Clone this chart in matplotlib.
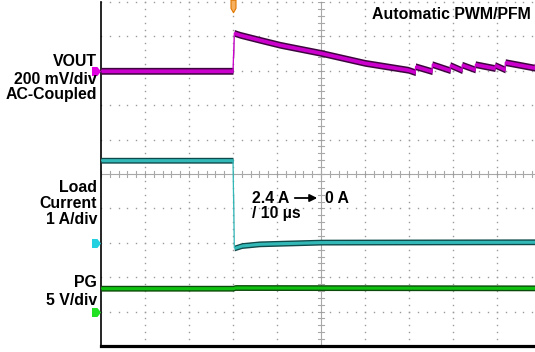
import numpy as np
import matplotlib
matplotlib.use("Agg")
import matplotlib.pyplot as plt
from matplotlib.path import Path
from matplotlib.patches import FancyArrowPatch

# ---- waveform data (time in µs, trigger at t = 0) ----
t_vout = [-300, 0, 3, 16, 61, 107, 200, 300, 398, 414, 415, 452, 453, 493, 494,
          520, 521, 550, 551, 595, 596, 618, 619, 686, 687, 700]
v_vout = [0, 0, 220, 209, 180, 151, 104, 46, 6, -8, 26, -2, 38, 4, 33,
          4, 35, 8, 38, 16, 33, 8, 50, 18, 38, 34]          # mV, AC-coupled

t_iload = [-300, 0, 3, 20, 60, 200, 700]
i_iload = [2.4, 2.4, -0.15, -0.08, -0.03, 0.02, 0.03]      # A

t_pg = [-300, 0, 5, 700]
v_pg = [3.4, 3.4, 3.5, 3.45]                               # V

# channel scale (units/div) and ground offset (div)
vout_scale, vout_offset = 200.0, 8.0
iload_scale, iload_offset = 1.0, 3.0
pg_scale, pg_offset = 5.0, 1.0

t_min, t_max, t_div = -300, 700, 100

W, H = 535, 352
fig = plt.figure(figsize=(W / 100, H / 100), dpi=100)
ax = fig.add_axes([101 / W, 6 / H, 440 / W, 344 / H])
ax.set_xlim(t_min, t_max)
ax.set_ylim(0, 10)
ax.set_xticks([])
ax.set_yticks([])
for s in ("top", "right"):
    ax.spines[s].set_visible(False)
ax.spines["left"].set_linewidth(1.2)
ax.spines["bottom"].set_linewidth(2.3)

# ---- graticule ----
dot_c = "#9a9a9a"
minor_t = np.arange(t_min, t_max + 1, t_div / 5)
minor_y = np.arange(0, 10.01, 0.2)
for yy in [1, 2, 3, 4, 6, 7, 8, 9, 10]:
    ax.plot(minor_t, np.full_like(minor_t, yy, dtype=float), ls="none",
            marker="s", ms=1.0, mew=0, color=dot_c, clip_on=False)
for tt in [-200, -100, 0, 100, 300, 400, 500, 600, 700]:
    ax.plot(np.full_like(minor_y, tt, dtype=float), minor_y, ls="none",
            marker="s", ms=1.0, mew=0, color=dot_c, clip_on=False)
center_c = "#a8a8a8"
ax.axhline(5, color=center_c, lw=0.8, zorder=1)
ax.axvline(200, color=center_c, lw=0.8, zorder=1)
for tt in minor_t:
    ax.plot([tt, tt], [5 - 0.08, 5 + 0.08], color=center_c, lw=0.8, zorder=1)
for yy in minor_y:
    ax.plot([200 - 7, 200 + 7], [yy, yy], color=center_c, lw=0.8, zorder=1)


def trace(t, v, scale, offset, core, edge, half_out, half_in):
    t = np.asarray(t, float)
    y = np.asarray(v, float) / scale + offset
    ax.fill_between(t, y - half_out, y + half_out, color=edge, lw=0, zorder=3)
    ax.fill_between(t, y - half_in, y + half_in, color=core, lw=0, zorder=4)
    ax.plot(t, y, color=core, lw=0.9, zorder=5)


trace(t_vout, v_vout, vout_scale, vout_offset, "#cc00cc", "#3e063e", 0.10, 0.055)
trace(t_iload, i_iload, iload_scale, iload_offset, "#33b8b8", "#0f4a4a", 0.085, 0.045)
trace(t_pg, v_pg, pg_scale, pg_offset, "#10c010", "#0a4a0a", 0.085, 0.045)

# ---- channel ground markers ----
flag = Path([(-1, -1), (0.2, -1), (1, 0), (0.2, 1), (-1, 1), (-1, -1)],
            [Path.MOVETO, Path.LINETO, Path.LINETO, Path.LINETO, Path.LINETO,
             Path.CLOSEPOLY])
for off, col in [(vout_offset, "#e000e0"), (iload_offset, "#22d0e0"),
                 (pg_offset, "#22e022")]:
    ax.plot([-311], [off], marker=flag, ms=6.5, color=col, mew=0,
            clip_on=False, zorder=6)

# trigger position marker
pin = Path([(-0.4, 1), (0.4, 1), (0.4, -0.3), (0, -1), (-0.4, -0.3), (-0.4, 1)],
           [Path.MOVETO, Path.LINETO, Path.LINETO, Path.LINETO, Path.LINETO,
            Path.CLOSEPOLY])
ax.plot([0], [9.88], marker=pin, ms=9, mfc="#f6b060", mec="#e07800", mew=0.8,
        clip_on=False, zorder=6)

# ---- annotations ----
fkw = dict(family=["Liberation Sans", "DejaVu Sans"], weight="bold",
           fontsize=11.4, color="black")


def ftext(x, y, s, ha="left"):
    fig.text(x / W, 1 - y / H, s, ha=ha, va="baseline", **fkw)


ftext(97, 66, "VOUT", "right")
ftext(97, 84.5, "200 mV/div", "right")
ftext(97, 99.5, "AC-Coupled", "right")
ftext(97, 192, "Load", "right")
ftext(97, 208, "Current", "right")
ftext(97, 224, "1 A/div", "right")
ftext(97, 287, "PG", "right")
ftext(97, 305, "5 V/div", "right")
ftext(531, 19, "Automatic PWM/PFM", "right")
ftext(252, 203, "2.4 A")
ftext(325, 203, "0 A")
ftext(252, 218, "/ 10 µs")
fig.add_artist(FancyArrowPatch((292 / W, 1 - 198 / H), (320 / W, 1 - 198 / H),
                               transform=fig.transFigure, arrowstyle="-|>",
                               mutation_scale=11, lw=1.3, color="black"))

fig.savefig("out.png", dpi=100)
